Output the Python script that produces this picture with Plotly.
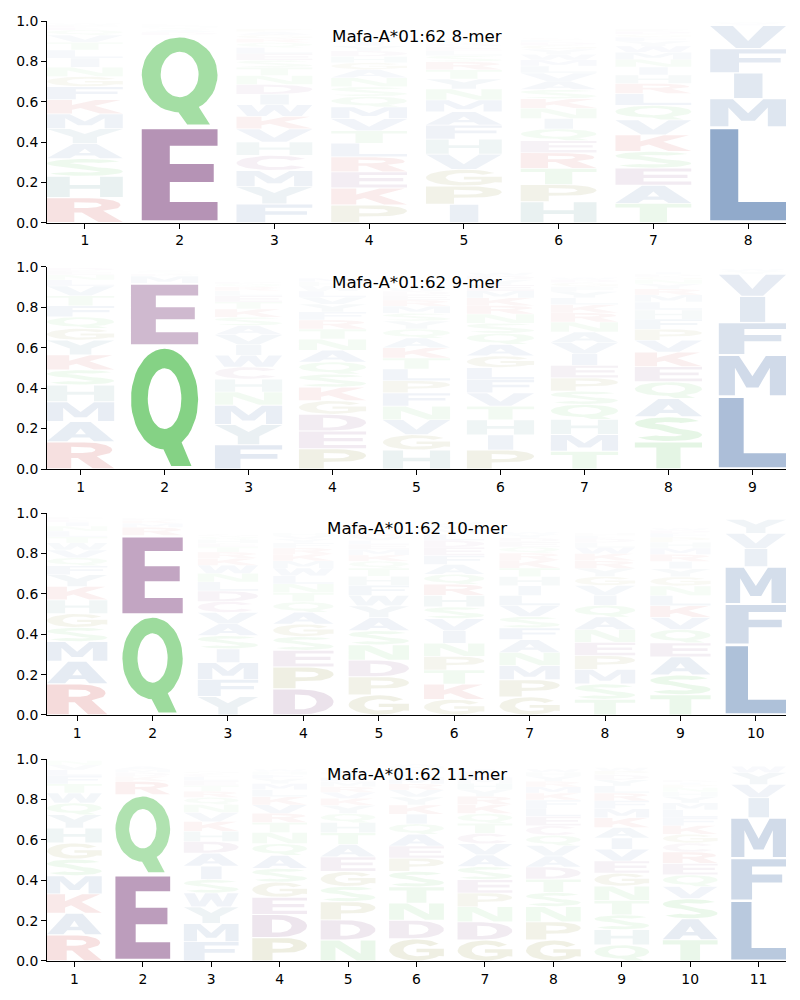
import math
import plotly.graph_objects as go

# ---------------- data (letter probabilities per position, read from the logos) -------------
TITLES = ["Mafa-A*01:62 8-mer", "Mafa-A*01:62 9-mer",
          "Mafa-A*01:62 10-mer", "Mafa-A*01:62 11-mer"]

MER8 = [
    {"R": .125, "H": .105, "S": .088, "A": .075, "Y": .074, "M": .073, "K": .07, "F": .065, "G": .05,
     "N": .046, "I": .045, "L": .04, "T": .039, "V": .035, "Q": .025, "E": .015, "D": .01, "W": .009},
    {"E": .475, "Q": .455, "D": .015, "A": .012, "S": .01, "M": .009, "K": .008, "H": .005},
    {"F": .093, "Y": .086, "M": .08, "C": .075, "H": .066, "V": .065, "K": .062, "W": .058, "I": .052,
     "D": .048, "N": .045, "T": .04, "S": .036, "E": .032, "L": .03, "Q": .025, "R": .02, "G": .019,
     "A": .015, "P": .014},
    {"P": .088, "K": .084, "E": .08, "R": .074, "L": .068, "T": .062, "V": .06, "M": .058, "Q": .052,
     "S": .048, "N": .045, "A": .04, "G": .035, "H": .03, "D": .028, "Y": .025, "I": .02, "F": .015,
     "W": .01, "C": .009},
    {"I": .092, "P": .09, "G": .083, "V": .075, "H": .074, "F": .07, "A": .066, "M": .058, "N": .055,
     "Y": .05, "T": .045, "R": .04, "S": .03, "L": .025, "E": .02, "D": .015, "Q": .014, "K": .01},
    {"H": .104, "P": .085, "T": .08, "R": .078, "E": .06, "Q": .058, "I": .052, "N": .05, "K": .048,
     "S": .045, "A": .042, "V": .04, "L": .035, "M": .03, "W": .028, "Y": .025, "G": .02, "D": .015,
     "F": .012, "C": .01},
    {"T": .096, "A": .09, "E": .085, "S": .083, "K": .082, "V": .074, "Q": .072, "L": .058, "R": .05,
     "H": .042, "I": .04, "N": .038, "M": .035, "W": .03, "Y": .025, "F": .02, "G": .015, "D": .014,
     "P": .01},
    {"L": .475, "M": .14, "I": .128, "F": .12, "V": .115, "Y": .01, "W": .008},
]

MER9 = [
    {"R": .135, "A": .1, "M": .098, "H": .083, "S": .075, "K": .074, "Y": .073, "G": .058, "Q": .057,
     "F": .055, "T": .05, "V": .048, "L": .03, "N": .025, "E": .02, "D": .015},
    {"Q": .61, "E": .31, "M": .035, "D": .012, "S": .01, "A": .008},
    {"F": .12, "Y": .1, "M": .096, "N": .065, "H": .064, "C": .06, "W": .058, "I": .052, "V": .05,
     "A": .045, "S": .042, "K": .04, "T": .035, "E": .03, "L": .025, "R": .02, "Q": .015, "D": .01},
    {"P": .1, "E": .088, "D": .083, "G": .068, "K": .066, "S": .065, "Q": .06, "A": .058, "N": .055,
     "T": .05, "R": .045, "F": .04, "Y": .038, "V": .035, "L": .03, "W": .025, "H": .02, "M": .019},
    {"H": .094, "G": .076, "V": .074, "N": .067, "F": .066, "P": .06, "L": .058, "T": .055, "K": .05,
     "A": .048, "Q": .045, "Y": .04, "S": .038, "M": .035, "R": .03, "E": .025, "D": .02, "W": .015,
     "I": .01},
    {"P": .094, "I": .075, "H": .074, "T": .068, "V": .066, "F": .065, "L": .06, "G": .058, "A": .057,
     "Q": .055, "S": .05, "N": .045, "R": .042, "K": .038, "M": .035, "E": .03, "Y": .025, "D": .02,
     "W": .015},
    {"T": .088, "M": .083, "H": .075, "Q": .074, "S": .066, "P": .065, "E": .062, "I": .058, "V": .055,
     "A": .052, "N": .05, "R": .045, "K": .04, "L": .035, "Y": .03, "F": .025, "G": .02, "D": .015,
     "W": .01},
    {"T": .135, "S": .124, "A": .09, "Q": .083, "E": .075, "K": .072, "V": .058, "P": .055, "F": .05,
     "H": .045, "L": .04, "M": .035, "R": .03, "Y": .025, "N": .02, "G": .015, "D": .012, "I": .01},
    {"L": .36, "M": .205, "F": .16, "I": .13, "V": .11, "Y": .015, "W": .01},
]

MER10 = [
    {"R": .155, "A": .112, "M": .097, "S": .07, "G": .069, "H": .068, "K": .066, "Y": .058, "F": .045,
     "Q": .04, "V": .038, "W": .035, "T": .03, "L": .028, "N": .025, "I": .02, "E": .015, "D": .01},
    {"Q": .495, "E": .395, "R": .04, "M": .02, "K": .015, "D": .01},
    {"Y": .092, "F": .085, "M": .083, "I": .068, "S": .066, "A": .058, "V": .056, "C": .055, "D": .052,
     "L": .045, "N": .042, "W": .04, "K": .035, "R": .03, "T": .025, "E": .02, "H": .018, "Q": .015,
     "G": .012},
    {"D": .13, "P": .108, "E": .083, "S": .068, "G": .062, "A": .058, "Q": .052, "T": .045, "N": .044,
     "L": .04, "W": .038, "M": .036, "K": .034, "R": .03, "F": .025, "Y": .02, "V": .015, "H": .014},
    {"G": .1, "P": .09, "D": .082, "N": .076, "S": .07, "A": .065, "Y": .058, "W": .052, "F": .05,
     "H": .045, "T": .04, "Q": .035, "K": .03, "M": .028, "E": .025, "L": .02, "V": .018, "R": .015},
    {"G": .078, "K": .075, "T": .07, "P": .068, "N": .065, "I": .062, "V": .06, "S": .058, "H": .057,
     "R": .055, "Q": .05, "A": .048, "F": .045, "E": .04, "D": .035, "L": .03, "M": .025, "Y": .02,
     "W": .015},
    {"G": .09, "P": .085, "M": .07, "N": .065, "A": .064, "F": .058, "S": .056, "V": .055, "L": .05,
     "I": .048, "H": .045, "T": .042, "K": .04, "R": .035, "Q": .03, "E": .025, "D": .02, "Y": .018,
     "W": .012},
    {"T": .078, "S": .076, "M": .072, "P": .068, "E": .066, "N": .064, "A": .062, "Q": .058, "I": .05,
     "V": .048, "G": .045, "Y": .04, "R": .038, "K": .035, "W": .03, "L": .025, "D": .02, "F": .015,
     "H": .012},
    {"T": .1, "S": .098, "A": .09, "E": .07, "Q": .066, "V": .06, "K": .058, "L": .05, "N": .048,
     "G": .045, "Y": .04, "I": .036, "R": .035, "M": .032, "H": .028, "P": .025, "F": .02, "D": .015,
     "W": .01},
    {"L": .35, "F": .2, "M": .185, "I": .09, "V": .075, "Y": .07},
]

MER11 = [
    {"R": .13, "A": .107, "K": .096, "M": .09, "S": .082, "G": .08, "H": .074, "Y": .066, "Q": .058,
     "W": .05, "T": .045, "F": .04, "L": .03, "V": .025, "N": .02},
    {"E": .43, "Q": .395, "R": .065, "K": .025, "D": .02, "M": .015, "A": .014},
    {"F": .096, "M": .09, "Y": .083, "W": .068, "S": .067, "I": .066, "A": .065, "D": .058, "H": .05,
     "K": .048, "V": .045, "N": .04, "Q": .035, "R": .03, "T": .028, "E": .025, "L": .02, "C": .015,
     "G": .012},
    {"P": .116, "D": .115, "E": .085, "G": .075, "S": .068, "A": .065, "Q": .058, "N": .055, "T": .05,
     "R": .045, "V": .042, "K": .04, "L": .035, "M": .03, "Y": .025, "F": .02, "H": .015, "W": .012},
    {"N": .104, "D": .1, "P": .09, "S": .076, "G": .074, "E": .072, "A": .062, "T": .058, "H": .05,
     "Q": .045, "Y": .04, "K": .035, "V": .03, "R": .028, "M": .025, "L": .02, "I": .015, "F": .012,
     "W": .01},
    {"G": .11, "D": .092, "N": .085, "T": .08, "S": .078, "P": .065, "E": .06, "A": .058, "Q": .052,
     "I": .048, "K": .045, "Y": .04, "V": .035, "R": .03, "M": .028, "L": .025, "F": .02, "H": .015,
     "W": .012},
    {"G": .104, "D": .09, "N": .075, "P": .068, "E": .066, "S": .065, "A": .058, "V": .055, "C": .052,
     "T": .05, "Q": .048, "K": .045, "R": .04, "Y": .035, "H": .03, "M": .025, "L": .02, "F": .015,
     "I": .012},
    {"G": .104, "P": .09, "N": .076, "S": .07, "T": .066, "D": .06, "A": .055, "V": .052, "Q": .05,
     "C": .048, "E": .045, "L": .042, "F": .04, "K": .035, "M": .03, "R": .028, "Y": .025, "H": .02,
     "W": .015},
    {"Q": .08, "H": .075, "S": .074, "T": .072, "N": .07, "G": .065, "E": .06, "V": .058, "I": .056,
     "A": .052, "K": .048, "M": .045, "F": .04, "R": .038, "L": .035, "Y": .03, "D": .025, "P": .02,
     "W": .015},
    {"T": .105, "A": .104, "S": .1, "V": .06, "Q": .058, "E": .057, "R": .056, "C": .045, "G": .044,
     "K": .042, "F": .04, "L": .038, "M": .035, "Y": .03, "H": .025, "N": .02, "P": .015, "I": .012,
     "D": .01},
    {"L": .3, "F": .21, "M": .2, "I": .1, "V": .065, "Y": .06, "W": .03},
]

MOTIFS = [MER8, MER9, MER10, MER11]

# ---------------- styling -------------------------------------------------------------------
BLUE = (24, 76, 146)
RED = (190, 25, 25)
PURPLE = (100, 28, 100)
GREEN = (56, 182, 56)
OLIVE = (110, 110, 0)
TEAL = (45, 120, 120)
TEALBLUE = (45, 105, 135)
MAUVE = (140, 60, 125)
LETTER_COLOR = {}
for aa in "AVLIMFW":
    LETTER_COLOR[aa] = BLUE
for aa in "KR":
    LETTER_COLOR[aa] = RED
for aa in "DE":
    LETTER_COLOR[aa] = PURPLE
for aa in "STNQ":
    LETTER_COLOR[aa] = GREEN
for aa in "PG":
    LETTER_COLOR[aa] = OLIVE
LETTER_COLOR["H"] = TEAL
LETTER_COLOR["Y"] = TEALBLUE
LETTER_COLOR["C"] = MAUVE

Y_DOMAINS = [(0.7854, 1.0), (0.5234, 0.7383), (0.2617, 0.4763), (0.0, 0.2146)]
COL_WIDTH = 0.8
VPAD = 0.05
FONT = "DejaVu Sans"


# ---------------- glyph outlines (unit box, bold sans style) ----------------------------------
def arc(cx, cy, rx, ry, a0, a1, n=28):
    pts = []
    for i in range(n + 1):
        a = math.radians(a0 + (a1 - a0) * i / n)
        pts.append((cx + rx * math.cos(a), cy + ry * math.sin(a)))
    return pts


def glyph(letter):
    """Return list of (contour, is_hole) in unit coordinates."""
    if letter == "A":
        return [([(0, 0), (.3, 0), (.37, .19), (.63, .19), (.7, 0), (1, 0), (.65, 1), (.35, 1)], False),
                ([(.42, .37), (.58, .37), (.5, .66)], True)]
    if letter == "C":
        return [(arc(.5, .5, .5, .5, 36, 324) + arc(.52, .5, .25, .3, 324, 36), False)]
    if letter == "D":
        return [(arc(.45, .5, .55, .5, -90, 90) + [(0, 1), (0, 0)], False),
                ([(.36, .2)] + arc(.45, .5, .27, .3, -90, 90) + [(.36, .8)], True)]
    if letter == "E":
        return [([(0, 0), (1, 0), (1, .2), (.37, .2), (.37, .42), (.95, .42), (.95, .62), (.37, .62),
                  (.37, .82), (1, .82), (1, 1), (0, 1)], False)]
    if letter == "F":
        return [([(0, 0), (.38, 0), (.38, .42), (.93, .42), (.93, .62), (.38, .62), (.38, .82),
                  (1, .82), (1, 1), (0, 1)], False)]
    if letter == "G":
        return [(arc(.5, .5, .5, .5, 36, 325) +
                 [(1, .2), (1, .56), (.5, .56), (.5, .39), (.73, .39), (.73, .25)] +
                 arc(.53, .5, .27, .3, 295, 36), False)]
    if letter == "H":
        return [([(0, 0), (.3, 0), (.3, .41), (.7, .41), (.7, 0), (1, 0), (1, 1), (.7, 1), (.7, .6),
                  (.3, .6), (.3, 1), (0, 1)], False)]
    if letter == "I":
        return [([(.315, 0), (.69, 0), (.69, 1), (.315, 1)], False)]
    if letter == "K":
        return [([(0, 0), (.33, 0), (.33, .28), (.44, .4), (.7, 0), (1, 0), (.63, .58), (.97, 1),
                  (.64, 1), (.33, .62), (.33, 1), (0, 1)], False)]
    if letter == "L":
        return [([(0, 0), (1, 0), (1, .2), (.37, .2), (.37, 1), (0, 1)], False)]
    if letter == "M":
        return [([(0, 0), (.24, 0), (.24, .7), (.41, .2), (.59, .2), (.76, .7), (.76, 0), (1, 0),
                  (1, 1), (.7, 1), (.5, .48), (.3, 1), (0, 1)], False)]
    if letter == "N":
        return [([(0, 0), (.27, 0), (.27, .66), (.66, 0), (1, 0), (1, 1), (.73, 1), (.73, .34),
                  (.34, 1), (0, 1)], False)]
    if letter == "P":
        return [([(0, 0), (.37, 0), (.37, .34)] + arc(.58, .67, .42, .33, -90, 90) + [(0, 1)], False),
                ([(.37, .53)] + arc(.55, .67, .2, .14, -90, 90) + [(.37, .81)], True)]
    if letter == "Q":
        return [(arc(.5, .57, .5, .43, 0, 360, 48), False),
                (arc(.5, .575, .25, .26, 0, 360, 48), True),
                ([(.42, .22), (.6, 0), (.9, 0), (.74, .22)], False)]
    if letter == "R":
        return [([(0, 0), (.36, 0), (.36, .4), (.46, .4), (.68, 0), (1, 0), (.74, .47)] +
                 arc(.56, .71, .41, .29, -35, 90) + [(0, 1)], False),
                ([(.36, .59)] + arc(.53, .71, .19, .12, -90, 90) + [(.36, .83)], True)]
    if letter == "S":
        side_a = arc(.5, .74, .5, .26, 25, 250) + arc(.5, .26, .2, .06, 70, -155)
        side_b = arc(.5, .74, .2, .06, 25, 250) + arc(.5, .26, .5, .26, 70, -155)
        return [(side_a + side_b[::-1], False)]
    if letter == "T":
        return [([(0, 1), (1, 1), (1, .8), (.68, .8), (.68, 0), (.32, 0), (.32, .8), (0, .8)], False)]
    if letter == "V":
        return [([(0, 1), (.3, 1), (.5, .32), (.7, 1), (1, 1), (.66, 0), (.34, 0)], False)]
    if letter == "W":
        return [([(0, 1), (.2, 1), (.29, .36), (.39, 1), (.61, 1), (.71, .36), (.8, 1), (1, 1),
                  (.86, 0), (.61, 0), (.5, .55), (.39, 0), (.14, 0)], False)]
    if letter == "Y":
        return [([(0, 1), (.3, 1), (.5, .64), (.7, 1), (1, 1), (.66, .42), (.66, 0), (.34, 0),
                  (.34, .42)], False)]
    raise KeyError(letter)


def oriented(pts, ccw):
    n = len(pts)
    area = sum(pts[i][0] * pts[(i + 1) % n][1] - pts[(i + 1) % n][0] * pts[i][1] for i in range(n))
    if (area > 0) != ccw:
        return pts[::-1]
    return pts


def glyph_xy(letter, x0, y0, w, h):
    xs, ys = [], []
    for contour, hole in glyph(letter):
        pts = oriented(list(contour), not hole)
        for gx, gy in pts + [pts[0]]:
            xs.append(x0 + w * gx)
            ys.append(y0 + h * gy)
        xs.append(None)
        ys.append(None)
    return xs, ys


# ---------------- figure ----------------------------------------------------------------------
fig = go.Figure()
layout = dict(
    width=800, height=1000, paper_bgcolor="white", plot_bgcolor="white",
    margin=dict(l=47, r=14.4, t=21, b=39), showlegend=False,
    font=dict(family=FONT, size=13.9, color="black"), annotations=[],
)

for k, motif in enumerate(MOTIFS):
    sfx = "" if k == 0 else str(k + 1)
    xa, ya = "x" + sfx, "y" + sfx
    for pos, column in enumerate(motif, start=1):
        base = 0.0
        for letter, p in sorted(column.items(), key=lambda kv: -kv[1]):
            xs, ys = glyph_xy(letter, pos - COL_WIDTH / 2, base + p * VPAD / 2,
                              COL_WIDTH, p * (1 - VPAD))
            r, g, b = LETTER_COLOR[letter]
            fig.add_trace(go.Scatter(
                x=xs, y=ys, xaxis=xa, yaxis=ya, mode="lines", fill="toself",
                fillcolor=f"rgba({r},{g},{b},{min(1.0, p):.3f})", line=dict(width=0),
                hoverinfo="skip", showlegend=False))
            base += p
    n = len(motif)
    axis_common = dict(showline=True, linecolor="black", linewidth=1, ticks="outside", ticklen=5,
                       tickwidth=1, tickcolor="black", showgrid=False, zeroline=False,
                       tickfont=dict(family=FONT, size=13.9, color="black"), fixedrange=True)
    layout["xaxis" + sfx] = dict(domain=[0, 1], anchor=ya, range=[0.6, n + 0.4],
                                 tickmode="array", tickvals=list(range(1, n + 1)), **axis_common)
    layout["yaxis" + sfx] = dict(domain=list(Y_DOMAINS[k]), anchor=xa, range=[0, 1],
                                 tickmode="array", tickvals=[0, .2, .4, .6, .8, 1.0],
                                 tickformat=".1f", **axis_common)
    layout["annotations"].append(dict(
        text=TITLES[k], xref="paper", x=0.5, yref=ya, y=0.926, xanchor="center", yanchor="middle",
        showarrow=False, font=dict(family=FONT, size=16.7, color="black")))

fig.update_layout(**layout)
fig.write_html("out.html", config={"displayModeBar": False})
